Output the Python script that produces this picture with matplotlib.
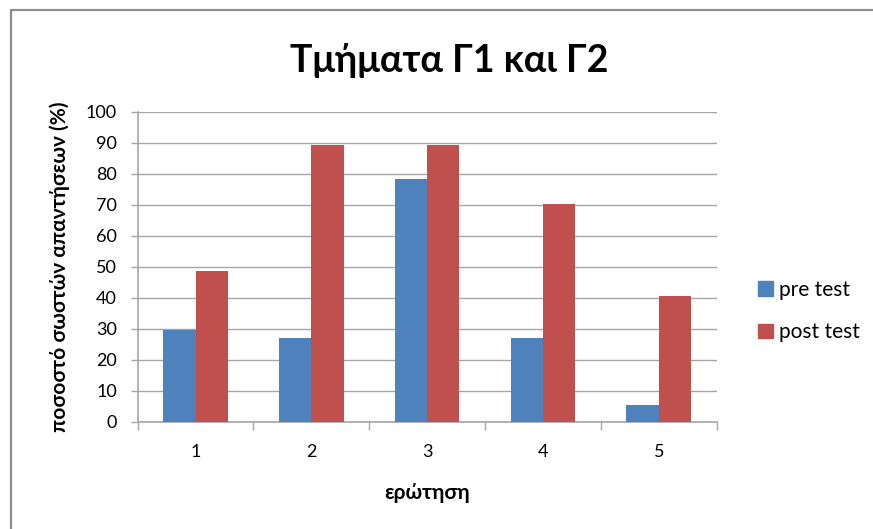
import numpy as np
import matplotlib.pyplot as plt
from matplotlib.patches import Rectangle, Patch

plt.rcParams['font.family'] = ['Lato', 'DejaVu Sans']

questions = ['1', '2', '3', '4', '5']
pre_test = [29.7, 27.0, 78.4, 27.0, 5.4]
post_test = [48.6, 89.2, 89.2, 70.3, 40.5]
series_names = ['pre test', 'post test']
title = 'Τμήματα Γ1 και Γ2'
ylabel = 'ποσοστό σωστών απαντήσεων (%)'
xlabel = 'ερώτηση'

blue = '#4f81bd'
red = '#c0504d'
grid_c = '#a6a6a6'

fig = plt.figure(figsize=(8.73, 5.29), dpi=100)
# outer chart frame (only left and top edges are visible in the crop)
fig.patches.append(Rectangle((11 / 873, -0.05), 1.1, 1 - 10 / 529 + 0.05,
                             transform=fig.transFigure, fill=False,
                             edgecolor='#8c8c8c', linewidth=1.6))

ax = fig.add_axes([0.1577, 0.2023, 0.6632, 0.586])
x = np.arange(len(questions))
w = 0.279
ax.bar(x - w / 2, pre_test, w, color=blue, zorder=3)
ax.bar(x + w / 2, post_test, w, color=red, zorder=3)

ax.set_xlim(-0.5, len(questions) - 0.5)
ax.set_ylim(0, 100)
ax.set_yticks(np.arange(0, 101, 10))
ax.yaxis.grid(True, color=grid_c, linewidth=1)
ax.set_axisbelow(True)

ax.set_xticks(x)
ax.set_xticklabels(questions)
ax.set_xticks(np.arange(-0.5, len(questions)), minor=True)
ax.tick_params(axis='x', which='major', length=0, pad=16, labelsize=13)
ax.tick_params(axis='x', which='minor', length=6, color=grid_c, width=1)
ax.tick_params(axis='y', length=5, color=grid_c, width=1, labelsize=13, pad=10)

for s in ['top', 'right']:
    ax.spines[s].set_visible(False)
for s in ['left', 'bottom']:
    ax.spines[s].set_color(grid_c)
    ax.spines[s].set_linewidth(1.2)

fig.text(0.515, 1 - 60 / 529, title, ha='center', va='center',
         fontsize=27, fontweight='bold')
fig.text(60 / 873, 1 - 267 / 529, ylabel, ha='center', va='center',
         rotation=90, fontsize=15, fontweight='bold')
fig.text(427 / 873, 1 - 493 / 529, xlabel, ha='center', va='center',
         fontsize=15, fontweight='bold')

handles = [Patch(color=blue), Patch(color=red)]
fig.legend(handles, series_names, loc='center left',
           bbox_to_anchor=(0.847, 1 - 311 / 529), frameon=False,
           fontsize=15, handlelength=0.7, handleheight=0.7,
           handletextpad=0.3, labelspacing=1.1)

fig.savefig('out.png', dpi=100)
